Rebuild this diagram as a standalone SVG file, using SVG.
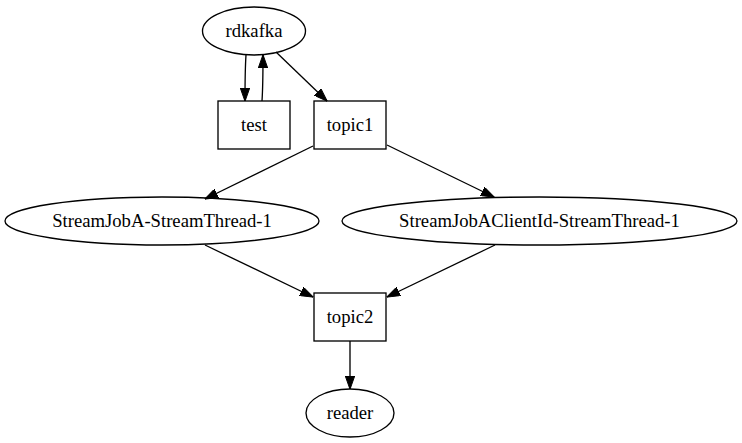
<svg xmlns="http://www.w3.org/2000/svg" width="742" height="443" viewBox="0 0 742 443">
<style>
.n{fill:none;stroke:#000;stroke-width:1.33}
.t{font-family:"Liberation Serif","Times New Roman",serif;font-size:18.67px;text-anchor:middle;fill:#000}
.e{fill:none;stroke:#000;stroke-width:1.33;marker-end:url(#ah)}
</style>
<defs>
<marker id="ah" viewBox="0 0 13.3 9.4" refX="13" refY="4.7" markerWidth="13.3" markerHeight="9.4" markerUnits="userSpaceOnUse" orient="auto">
<path d="M0,0 L13.3,4.7 L0,9.4 z" fill="#000" stroke="#000" stroke-width="1"/>
</marker>
</defs>
<rect width="742" height="443" fill="#fff"/>
<g id="edges">
<path class="e" d="M246,55 C245,70 245,86 245,101"/>
<path class="e" d="M262,101 C263,86 263,70 263,55"/>
<path class="e" d="M276,52 L327,101"/>
<path class="e" d="M313,146 L205,199"/>
<path class="e" d="M387,145 L494,197"/>
<path class="e" d="M205,245 L313,297"/>
<path class="e" d="M495,245 L387,297"/>
<path class="e" d="M350,341 L350,389"/>
</g>
<g id="rdkafka"><ellipse class="n" cx="254" cy="31" rx="51.5" ry="24"/><text class="t" x="254" y="37">rdkafka</text></g>
<g id="test"><rect class="n" x="218" y="101" width="72" height="48"/><text class="t" x="254" y="131">test</text></g>
<g id="topic1"><rect class="n" x="314" y="101" width="72" height="48"/><text class="t" x="350" y="131">topic1</text></g>
<g id="StreamJobA-StreamThread-1"><ellipse class="n" cx="162" cy="221" rx="157" ry="24"/><text class="t" x="162" y="227">StreamJobA-StreamThread-1</text></g>
<g id="StreamJobAClientId-StreamThread-1"><ellipse class="n" cx="539.5" cy="221" rx="197.5" ry="24"/><text class="t" x="539.5" y="227">StreamJobAClientId-StreamThread-1</text></g>
<g id="topic2"><rect class="n" x="314" y="293" width="72" height="48"/><text class="t" x="350" y="323">topic2</text></g>
<g id="reader"><ellipse class="n" cx="350" cy="413" rx="44" ry="24"/><text class="t" x="350" y="419">reader</text></g>
</svg>
